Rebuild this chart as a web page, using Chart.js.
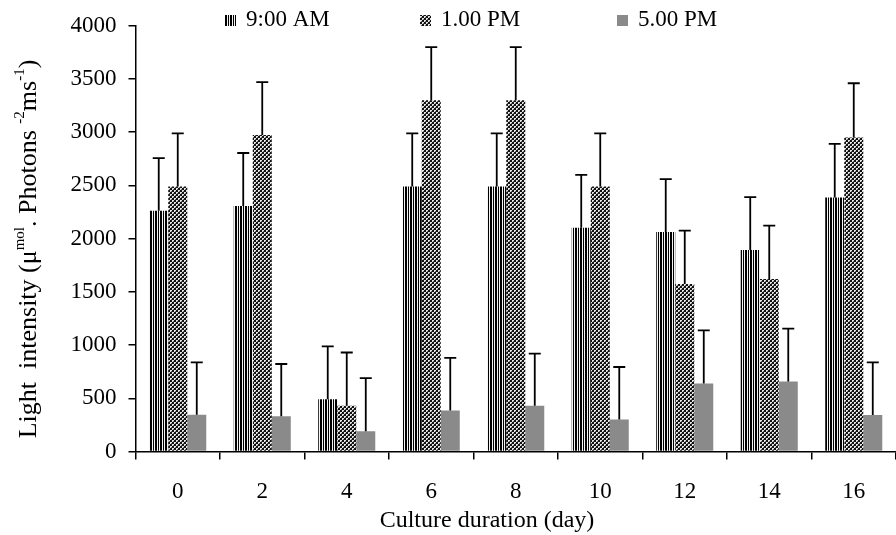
<!DOCTYPE html>
<html lang="en">
<head>
    <meta charset="UTF-8">
    <title>Light intensity</title>
    <style>
        body {
            margin: 0;
            background: #fff;
        }
        #wrap {
            width: 896px;
            height: 535px;
        }
    </style>
    <script src="https://cdn.jsdelivr.net/npm/chart.js"></script>
</head>
<body>
    <div id="wrap">
        <canvas id="chart" width="896" height="535"></canvas>
    </div>
    <script>
        // data
        const days = ['0', '2', '4', '6', '8', '10', '12', '14', '16'];
        const seriesNames = ['9:00 AM', '1.00 PM', '5.00 PM'];
        const am9 = [2262, 2306, 490, 2490, 2490, 2103, 2063, 1894, 2387];
        const pm1 = [2490, 2974, 430, 3300, 3300, 2490, 1575, 1622, 2950];
        const pm5 = [345, 332, 190, 386, 429, 301, 639, 657, 342];
        const am9Err = [494, 499, 497, 500, 500, 497, 496, 496, 503];
        const pm1Err = [500, 496, 500, 500, 500, 500, 500, 500, 510];
        const pm5Err = [493, 490, 500, 493, 491, 493, 499, 497, 496];
        const yTicks = [0, 500, 1000, 1500, 2000, 2500, 3000, 3500, 4000];

        const FONT = '"Liberation Serif", "Times New Roman", serif';

        // fill patterns
        function makePattern(w, h, paint) {
            const c = document.createElement('canvas');
            c.width = w;
            c.height = h;
            const g = c.getContext('2d');
            paint(g);
            return g.createPattern(c, 'repeat');
        }
        const stripePattern = makePattern(5, 2, g => {
            g.fillStyle = '#f4f4f4';
            g.fillRect(0, 0, 5, 2);
            g.fillStyle = '#000';
            g.fillRect(0, 0, 2, 2);
            g.fillRect(3, 0, 1, 2);
        });
        const dotPattern = makePattern(4, 4, g => {
            g.fillStyle = '#111';
            g.fillRect(0, 0, 4, 4);
            g.fillStyle = '#e6e6e6';
            g.fillRect(0, 0, 2, 2);
            g.fillRect(2, 2, 2, 2);
            g.fillStyle = '#666';
            g.fillRect(1, 1, 1, 1);
            g.fillRect(3, 3, 1, 1);
        });
        const greyFill = '#8a8a8a';
        const fills = [stripePattern, dotPattern, greyFill];
        const errors = [am9Err, pm1Err, pm5Err];

        // upward error bars with caps
        const errorBars = {
            id: 'errorBars',
            afterDatasetsDraw(chart) {
                const ctx = chart.ctx;
                const y = chart.scales.y;
                ctx.save();
                ctx.strokeStyle = '#000';
                ctx.lineWidth = 1.8;
                chart.data.datasets.forEach((ds, di) => {
                    const meta = chart.getDatasetMeta(di);
                    meta.data.forEach((bar, i) => {
                        const top = y.getPixelForValue(ds.data[i] + errors[di][i]);
                        ctx.beginPath();
                        ctx.moveTo(bar.x, bar.y);
                        ctx.lineTo(bar.x, top);
                        ctx.moveTo(bar.x - 6, top);
                        ctx.lineTo(bar.x + 6, top);
                        ctx.stroke();
                    });
                });
                ctx.restore();
            }
        };

        // legend across the top and the two axis titles
        const decorations = {
            id: 'decorations',
            afterDraw(chart) {
                const ctx = chart.ctx;
                ctx.save();
                ctx.fillStyle = '#000';
                ctx.textBaseline = 'middle';
                ctx.font = '23px ' + FONT;

                const legendX = [225, 420, 617];
                seriesNames.forEach((name, i) => {
                    ctx.fillStyle = fills[i];
                    ctx.fillRect(legendX[i], 15, 11, 11);
                    ctx.fillStyle = '#000';
                    ctx.fillText(name, legendX[i] + 21, 20);
                });

                // x title
                ctx.font = '24px ' + FONT;
                ctx.textAlign = 'center';
                ctx.fillText('Culture duration (day)', 487, 521);

                // y title with superscripts
                const parts = [
                    ['Light  intensity (\u03bc', false],
                    ['mol', true],
                    ['. Photons ', false],
                    ['-2', true],
                    ['ms', false],
                    ['-1', true],
                    [')', false]
                ];
                const big = '26px ' + FONT;
                const small = '15px ' + FONT;
                let total = 0;
                parts.forEach(p => {
                    ctx.font = p[1] ? small : big;
                    total += ctx.measureText(p[0]).width;
                });
                ctx.translate(29, 249);
                ctx.rotate(-Math.PI / 2);
                ctx.textAlign = 'left';
                let x = -total / 2;
                parts.forEach(p => {
                    ctx.font = p[1] ? small : big;
                    ctx.fillText(p[0], x, p[1] ? -9 : 0);
                    x += ctx.measureText(p[0]).width;
                });
                ctx.restore();
            }
        };

        new Chart(document.getElementById('chart'), {
            type: 'bar',
            data: {
                labels: days,
                datasets: [
                    { label: seriesNames[0], data: am9, backgroundColor: stripePattern },
                    { label: seriesNames[1], data: pm1, backgroundColor: dotPattern },
                    { label: seriesNames[2], data: pm5, backgroundColor: greyFill }
                ]
            },
            options: {
                responsive: false,
                animation: false,
                layout: {
                    padding: { top: 24.5, right: -5, bottom: 0, left: 0 }
                },
                datasets: {
                    bar: {
                        barPercentage: 1,
                        categoryPercentage: 0.675,
                        borderWidth: 0
                    }
                },
                scales: {
                    x: {
                        grid: {
                            drawOnChartArea: false,
                            drawTicks: true,
                            tickLength: 8,
                            color: '#000',
                            lineWidth: 1.5
                        },
                        border: { color: '#000', width: 1.5 },
                        ticks: {
                            color: '#000',
                            padding: 19,
                            font: { family: FONT, size: 23 }
                        },
                        afterFit(scale) {
                            scale.height = 83.5;
                        }
                    },
                    y: {
                        min: 0,
                        max: 4000,
                        afterBuildTicks(scale) {
                            scale.ticks = yTicks.map(v => ({ value: v }));
                        },
                        grid: {
                            drawOnChartArea: false,
                            drawTicks: true,
                            tickLength: 7,
                            color: '#000',
                            lineWidth: 1.5
                        },
                        border: { color: '#000', width: 1.5 },
                        ticks: {
                            color: '#000',
                            padding: 12,
                            font: { family: FONT, size: 23 },
                            callback: v => String(v)
                        },
                        afterFit(scale) {
                            scale.width = 135.5;
                        }
                    }
                },
                plugins: {
                    legend: { display: false },
                    tooltip: { enabled: false }
                }
            },
            plugins: [errorBars, decorations]
        });
    </script>
</body>
</html>
